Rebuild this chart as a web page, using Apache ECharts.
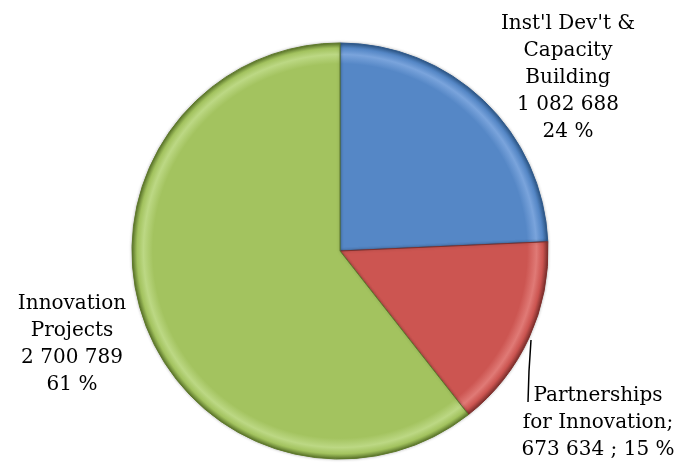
<!DOCTYPE html>
<html>
<head>
<meta charset="utf-8">
<script src="https://cdn.jsdelivr.net/npm/echarts@6/dist/echarts.min.js"></script>
<style>
  html, body { margin: 0; padding: 0; background: #ffffff; }
  #chart { width: 678px; height: 463px; }
</style>
</head>
<body>
<div id="chart"></div>
<script>
// Budget allocation by programme component
const categories = ["Inst'l Dev't &\nCapacity\nBuilding", "Partnerships\nfor Innovation;", "Innovation\nProjects"];
const amounts = [1082688, 673634, 2700789];
const baseColors = ['#5587c6', '#cc5551', '#a3c35f'];
const lightColors = ['#7aa4dc', '#e07a76', '#bcd884'];
const darkColors = ['#2f5a8c', '#80302d', '#5f7a2c'];

const total = amounts.reduce((a, b) => a + b, 0);

function groupThousands(v) {
  return String(v).replace(/\B(?=(\d{3})+(?!\d))/g, ' ');
}

const cx = 340, cy = 251, R = 208;

// Bevelled rim: flat face, soft bright band near the edge, dark outer lip
function bevel(i) {
  return {
    type: 'radial', x: cx, y: cy, r: R, global: true,
    colorStops: [
      { offset: 0, color: baseColors[i] },
      { offset: 0.9, color: baseColors[i] },
      { offset: 0.945, color: lightColors[i] },
      { offset: 0.975, color: baseColors[i] },
      { offset: 1, color: darkColors[i] }
    ]
  };
}

const chart = echarts.init(document.getElementById('chart'), null, { renderer: 'canvas' });

chart.setOption({
  animation: false,
  backgroundColor: '#ffffff',
  series: [{
    type: 'pie',
    center: [cx, cy],
    radius: [0, R],
    startAngle: 90,
    clockwise: true,
    data: amounts.map((v, i) => ({
      name: categories[i],
      value: v,
      itemStyle: {
        color: bevel(i),
        borderColor: darkColors[i],
        borderWidth: 1,
        shadowColor: 'rgba(0,0,0,0.25)',
        shadowBlur: 3
      }
    })),
    label: {
      show: true,
      fontFamily: 'DejaVu Serif',
      fontSize: 20,
      lineHeight: 27,
      color: '#000000',
      align: 'center',
      overflow: 'none',
      width: 170,
      formatter: function (p) {
        const pct = Math.round(p.value / total * 100);
        if (p.dataIndex === 1) {
          return p.name + '\n' + groupThousands(p.value) + ' ; ' + pct + ' %';
        }
        return p.name + '\n' + groupThousands(p.value) + '\n' + pct + ' %';
      }
    },
    labelLine: { show: true, length: 10, length2: 10, lineStyle: { color: '#000', width: 1.5 } },
    labelLayout: function (params) {
      const i = params.dataIndex;
      const h = params.labelRect.height;
      if (i === 0) {
        return { x: 568, y: 10 + h / 2, align: 'center', verticalAlign: 'middle', labelLinePoints: [[0,0],[0,0],[0,0]] };
      }
      if (i === 1) {
        return { x: 598, y: 382 + h / 2, align: 'center', verticalAlign: 'middle',
          labelLinePoints: [[531, 340], [529, 371], [528, 402]] };
      }
      return { x: 72, y: 290 + h / 2, align: 'center', verticalAlign: 'middle', labelLinePoints: [[0,0],[0,0],[0,0]] };
    }
  }]
});
</script>
</body>
</html>
